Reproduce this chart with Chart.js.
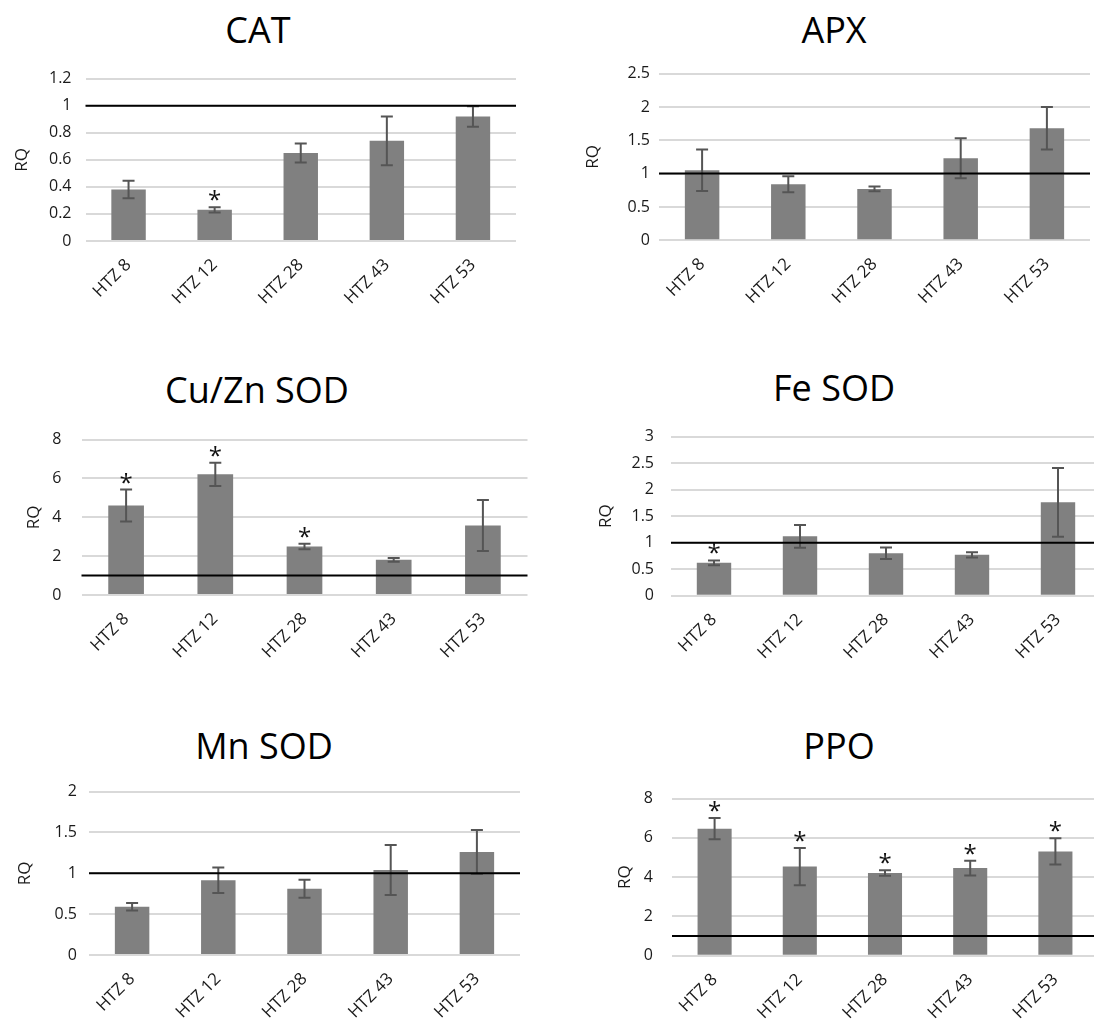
<!DOCTYPE html>
<html>
<head>
<meta charset="utf-8">
<script src="https://cdn.jsdelivr.net/npm/chart.js@4.4.1/dist/chart.umd.min.js"></script>
<style>
  html, body { margin: 0; padding: 0; background: #fff; overflow: hidden; }
  body { width: 1094px; height: 1026px; position: relative; }
  canvas { position: absolute; }
  .title {
    position: absolute; font-family: "Open Sans"; font-size: 36px; line-height: 36px;
    color: #000; transform: translateX(-50%); white-space: nowrap;
  }
</style>
</head>
<body>
<script>
// categories shared by all six panels
const categories = ['HTZ 8', 'HTZ 12', 'HTZ 28', 'HTZ 43', 'HTZ 53'];

// CAT
const catValues = [0.38, 0.23, 0.65, 0.74, 0.92];
const catErrors = [0.065, 0.02, 0.07, 0.18, 0.075];
const catStars = [false, true, false, false, false];

// APX
const apxValues = [1.05, 0.84, 0.77, 1.23, 1.68];
const apxErrors = [0.31, 0.12, 0.035, 0.3, 0.32];
const apxStars = [false, false, false, false, false];

// Cu/Zn SOD
const cuznValues = [4.61, 6.21, 2.5, 1.81, 3.58];
const cuznErrors = [0.82, 0.6, 0.14, 0.1, 1.31];
const cuznStars = [true, true, true, false, false];

// Fe SOD
const feValues = [0.62, 1.12, 0.8, 0.77, 1.76];
const feErrors = [0.045, 0.215, 0.11, 0.05, 0.65];
const feStars = [true, false, false, false, false];

// Mn SOD
const mnValues = [0.59, 0.915, 0.81, 1.04, 1.26];
const mnErrors = [0.045, 0.155, 0.11, 0.305, 0.27];
const mnStars = [false, false, false, false, false];

// PPO
const ppoValues = [6.47, 4.54, 4.21, 4.46, 5.31];
const ppoErrors = [0.54, 0.95, 0.14, 0.38, 0.67];
const ppoStars = [true, true, true, true, true];

// control level (RQ = 1) and y-axis ranges
const refLevel = 1;
const yMax = { cat: 1.2, apx: 2.5, cuzn: 8, fe: 3, mn: 2, ppo: 8 };
const yStep = { cat: 0.2, apx: 0.5, cuzn: 2, fe: 0.5, mn: 0.5, ppo: 2 };

const panels = [
  { title: 'CAT', values: catValues, errors: catErrors, stars: catStars, max: yMax.cat, step: yStep.cat,
    left: 0, top: 55, w: 530, h: 275, padL: 12, padR: 14, padT: 16, padB: 9, yW: 73.5, xH: 80, tickPad: 14, tx: 258, ty: 12 },
  { title: 'APX', values: apxValues, errors: apxErrors, stars: apxStars, max: yMax.apx, step: yStep.apx,
    left: 560, top: 55, w: 534, h: 275, padL: 23, padR: 4, padT: 16, padB: 9.7, yW: 76, xH: 80, tickPad: 9, tx: 834, ty: 12 },
  { title: 'Cu/Zn SOD', values: cuznValues, errors: cuznErrors, stars: cuznStars, max: yMax.cuzn, step: yStep.cuzn,
    left: 0, top: 410, w: 547, h: 275, padL: 24, padR: 19.5, padT: 16.7, padB: 10, yW: 57.5, xH: 80, tickPad: 20, tx: 257, ty: 372 },
  { title: 'Fe SOD', values: feValues, errors: feErrors, stars: feStars, max: yMax.fe, step: yStep.fe,
    left: 560, top: 410, w: 545, h: 275, padL: 35.5, padR: 4, padT: 16.7, padB: 9.3, yW: 75.5, xH: 80, tickPad: 17, tx: 834, ty: 370 },
  { title: 'Mn SOD', values: mnValues, errors: mnErrors, stars: mnStars, max: yMax.mn, step: yStep.mn,
    left: 0, top: 770, w: 530, h: 256, padL: 15.4, padR: 10, padT: 15, padB: 5, yW: 73.6, xH: 66, tickPad: 12, tx: 264, ty: 728 },
  { title: 'PPO', values: ppoValues, errors: ppoErrors, stars: ppoStars, max: yMax.ppo, step: yStep.ppo,
    left: 560, top: 770, w: 542, h: 256, padL: 55, padR: 4, padT: 16, padB: 4.3, yW: 57, xH: 66, tickPad: 19, tx: 839, ty: 728 }
];

const font = { family: 'Open Sans', size: 16 };
const xFont = { family: 'Open Sans', size: 17 };
const textColor = '#1a1a1a';

panels.forEach(p => {
  const t = document.createElement('div');
  t.className = 'title';
  t.textContent = p.title;
  t.style.left = p.tx + 'px';
  t.style.top = p.ty + 'px';
  document.body.appendChild(t);

  const cv = document.createElement('canvas');
  cv.width = p.w; cv.height = p.h;
  cv.style.left = p.left + 'px'; cv.style.top = p.top + 'px';
  cv.style.width = p.w + 'px'; cv.style.height = p.h + 'px';
  document.body.appendChild(cv);

  // error bars, control line and significance stars
  const extras = {
    id: 'extras',
    afterDatasetsDraw(chart) {
      const { ctx, chartArea: a, scales: { x, y } } = chart;
      ctx.save();
      ctx.strokeStyle = '#555'; ctx.lineWidth = 2;
      p.values.forEach((v, i) => {
        const cx = x.getPixelForValue(i);
        const hi = y.getPixelForValue(v + p.errors[i]);
        const lo = y.getPixelForValue(v - p.errors[i]);
        ctx.beginPath();
        ctx.moveTo(cx, hi); ctx.lineTo(cx, lo);
        ctx.moveTo(cx - 6, hi); ctx.lineTo(cx + 6, hi);
        ctx.moveTo(cx - 6, lo); ctx.lineTo(cx + 6, lo);
        ctx.stroke();
      });
      const ry = y.getPixelForValue(refLevel);
      ctx.strokeStyle = '#000'; ctx.lineWidth = 2;
      ctx.beginPath(); ctx.moveTo(a.left, ry); ctx.lineTo(a.right, ry); ctx.stroke();
      ctx.fillStyle = '#111';
      ctx.font = '24px "Open Sans"';
      ctx.textAlign = 'center'; ctx.textBaseline = 'alphabetic';
      p.values.forEach((v, i) => {
        if (!p.stars[i]) return;
        const hi = y.getPixelForValue(v + p.errors[i]);
        ctx.fillText('*', x.getPixelForValue(i), hi + 1);
      });
      ctx.restore();
    }
  };

  new Chart(cv.getContext('2d'), {
    type: 'bar',
    data: {
      labels: categories,
      datasets: [{ data: p.values, backgroundColor: '#808080', barPercentage: 0.4, categoryPercentage: 1 }]
    },
    options: {
      responsive: false,
      animation: false,
      layout: { padding: { left: p.padL, right: p.padR, top: p.padT, bottom: p.padB } },
      plugins: { legend: { display: false }, tooltip: { enabled: false } },
      scales: {
        x: {
          grid: { display: false }, border: { display: false },
          ticks: { color: textColor, font: xFont, minRotation: 45, maxRotation: 45, padding: 6 },
          afterFit: s => { s.height = p.xH; }
        },
        y: {
          min: 0, max: p.max,
          ticks: {
            stepSize: p.step, color: textColor, font: font, padding: p.tickPad,
            callback: v => String(Number(v.toFixed(2)))
          },
          grid: { color: '#d9d9d9', lineWidth: 2, drawTicks: false },
          border: { display: false },
          title: { display: true, text: 'RQ', color: textColor, font: xFont, padding: 0 },
          afterFit: s => { s.width = p.yW; }
        }
      }
    },
    plugins: [extras]
  });
});
</script>
</body>
</html>
